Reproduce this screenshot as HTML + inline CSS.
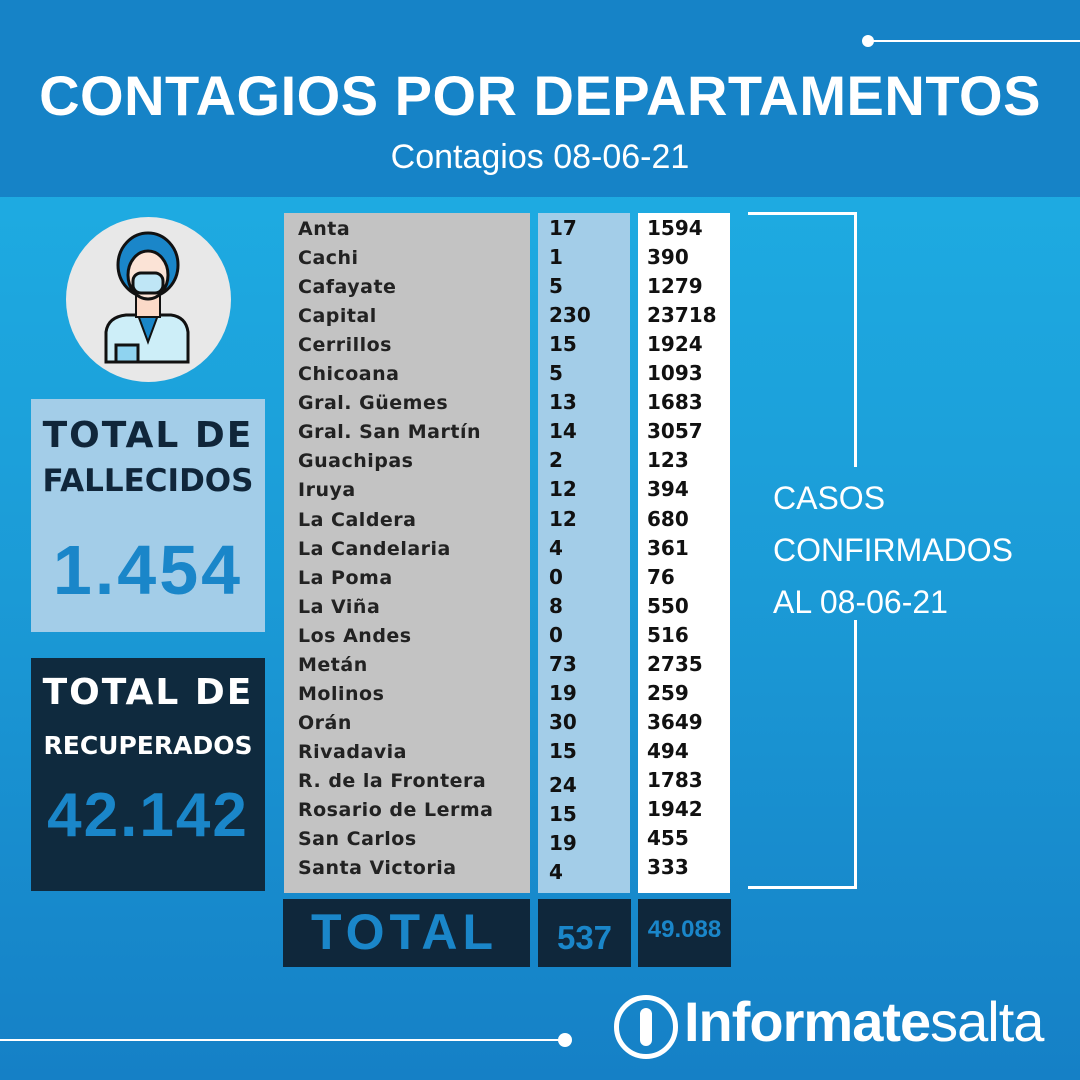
<!DOCTYPE html>
<html><head><meta charset="utf-8"><style>
*{margin:0;padding:0;box-sizing:border-box}
body{width:1080px;height:1080px;position:relative;overflow:hidden;font-family:"Liberation Sans","DejaVu Sans",sans-serif;background:linear-gradient(180deg,#1fb3e7 0%,#1b9ad6 55%,#1580c6 100%)}
.a{position:absolute}
.hdr{left:0;top:0;width:1080px;height:197px;background:#1683c7}
.t1{left:0;width:1080px;top:63px;text-align:center;color:#fff;font-weight:bold;font-size:56px;letter-spacing:0.5px;white-space:nowrap}
.t2{left:0;width:1080px;top:138px;text-align:center;color:#fff;font-size:34px}
.col{top:213px;height:680px}
.row{position:absolute;font-weight:bold;font-size:19px;color:#222;font-family:"DejaVu Sans",sans-serif;letter-spacing:0.5px;white-space:nowrap}
.num{font-size:20px;color:#111;letter-spacing:0}
.tot{top:899px;height:68px;background:#0f273b;color:#1a86c9;font-weight:bold}
</style></head><body>
<div class="a hdr"></div>
<div class="a" style="left:868px;top:40px;width:212px;height:2px;background:#fff"></div>
<div class="a" style="left:862px;top:35px;width:12px;height:12px;border-radius:50%;background:#fff"></div>
<div class="a t1">CONTAGIOS POR DEPARTAMENTOS</div>
<div class="a t2">Contagios 08-06-21</div>

<div class="a" style="left:66px;top:217px;width:165px;height:165px;border-radius:50%;background:#e8e8e8"></div>
<svg class="a" style="left:66px;top:217px" width="165" height="165" viewBox="0 0 165 165">
<path d="M40 115 Q42 100 60 98 L105 98 Q120 100 122 115 L122 145 L40 145Z" fill="#cdeef8" stroke="#111" stroke-width="3"/>
<path d="M72 98 L82 125 L92 98Z" fill="#1a86c9" stroke="#111" stroke-width="2"/>
<rect x="50" y="128" width="22" height="17" fill="#8fd3f0" stroke="#111" stroke-width="3"/>
<ellipse cx="82" cy="48" rx="30" ry="32" fill="#1a86c9" stroke="#111" stroke-width="3"/>
<rect x="70" y="70" width="24" height="30" fill="#fbd9c8" stroke="#111" stroke-width="2"/>
<ellipse cx="82" cy="58" rx="20" ry="24" fill="#fbe3d6" stroke="#111" stroke-width="3"/>
<rect x="67" y="56" width="30" height="20" rx="8" fill="#bfe6f6" stroke="#111" stroke-width="3"/>
</svg>

<div class="a" style="left:31px;top:399px;width:234px;height:233px;background:#a3cde8"></div>
<div class="a" style="left:31px;top:414px;width:234px;text-align:center;color:#10263a;font-weight:bold;font-size:36px;line-height:44px;letter-spacing:2px;font-family:'DejaVu Sans',sans-serif">TOTAL DE<br><span style="font-size:31px;letter-spacing:0">FALLECIDOS</span></div>
<div class="a" style="left:31px;top:530px;width:234px;text-align:center;color:#1a86c9;font-weight:bold;font-size:70px;letter-spacing:3px">1.454</div>
<div class="a" style="left:31px;top:658px;width:234px;height:233px;background:#0f2a3e"></div>
<div class="a" style="left:31px;top:668px;width:234px;text-align:center;color:#fff;font-weight:bold;font-size:36px;line-height:50px;letter-spacing:2px;font-family:'DejaVu Sans',sans-serif">TOTAL DE<br><span style="font-size:25px;letter-spacing:0">RECUPERADOS</span></div>
<div class="a" style="left:31px;top:780px;width:234px;text-align:center;color:#1a86c9;font-weight:bold;font-size:62px;letter-spacing:2px">42.142</div>

<div class="a col" style="left:284px;width:246px;background:#c3c3c3"></div>
<div class="a col" style="left:538px;width:92px;background:#a3cde8"></div>
<div class="a col" style="left:638px;width:92px;background:#fff"></div>
<div id="rows"></div>

<div class="a tot" style="left:283px;width:247px;font-size:50px;letter-spacing:5px;padding:4px 0 0 28px">TOTAL</div>
<div class="a tot" style="left:538px;width:93px;font-size:33px;padding-top:20px;text-align:center">537</div>
<div class="a tot" style="left:638px;width:93px;font-size:24px;padding-top:17px;text-align:center">49.088</div>

<div class="a" style="left:748px;top:212px;width:109px;height:3px;background:#fff"></div>
<div class="a" style="left:854px;top:212px;width:3px;height:255px;background:#fff"></div>
<div class="a" style="left:854px;top:620px;width:3px;height:269px;background:#fff"></div>
<div class="a" style="left:748px;top:886px;width:109px;height:3px;background:#fff"></div>
<div class="a" style="left:773px;top:472px;color:#fff;font-size:32px;line-height:52px">CASOS<br>CONFIRMADOS<br>AL 08-06-21</div>

<div class="a" style="left:0;top:1039px;width:565px;height:2px;background:#fff"></div>
<div class="a" style="left:558px;top:1033px;width:14px;height:14px;border-radius:50%;background:#fff"></div>
<div class="a" style="left:614px;top:995px;width:64px;height:64px;border:5px solid #fff;border-radius:50%"></div>
<div class="a" style="left:640px;top:1008px;width:12px;height:38px;background:#fff;border-radius:6px"></div>
<div class="a" style="left:684px;top:989px;color:#fff;font-weight:bold;font-size:56px;letter-spacing:-1px">Informate<span style="font-weight:normal">salta</span></div>

<script>
var d=[["Anta",17,1594],["Cachi",1,390],["Cafayate",5,1279],["Capital",230,23718],["Cerrillos",15,1924],["Chicoana",5,1093],["Gral. Güemes",13,1683],["Gral. San Martín",14,3057],["Guachipas",2,123],["Iruya",12,394],["La Caldera",12,680],["La Candelaria",4,361],["La Poma",0,76],["La Viña",8,550],["Los Andes",0,516],["Metán",73,2735],["Molinos",19,259],["Orán",30,3649],["Rivadavia",15,494],["R. de la Frontera",24,1783],["Rosario de Lerma",15,1942],["San Carlos",19,455],["Santa Victoria",4,333]];
var h="";d.forEach(function(r,i){var y=218+i*29.05;var y2=y+(i>=19?5:0);
h+='<div class="row" style="left:298px;top:'+y+'px">'+r[0]+'</div><div class="row num" style="left:549px;top:'+(y2-2)+'px">'+r[1]+'</div><div class="row num" style="left:647px;top:'+(y-2)+'px">'+r[2]+'</div>';});
document.getElementById("rows").innerHTML=h;
</script>
</body></html>
